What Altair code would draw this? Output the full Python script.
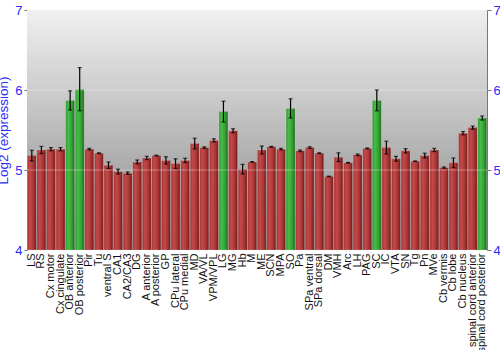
import altair as alt
import pandas as pd

regions = ["LS", "RS", "Cx motor", "Cx cingulate", "OB anterior", "OB posterior", "Pir", "Tu",
           "ventral S", "CA1", "CA2/CA3", "DG", "A anterior", "A posterior", "GP", "CPu lateral",
           "CPu medial", "MD", "VA/VL", "VPM/VPL", "LG", "MG", "Hb", "M", "ME", "SCN", "MPA", "SO",
           "Pa", "SPa ventral", "SPa dorsal", "DM", "VMH", "Arc", "LH", "PAG", "SC", "IC", "VTA",
           "SN", "Tg", "Pn", "MVe", "Cb vermis", "Cb lobe", "Cb nucleus", "spinal cord anterior",
           "spinal cord posterior"]
values = [5.18, 5.25, 5.26, 5.26, 5.87, 6.01, 5.26, 5.21,
          5.06, 4.98, 4.96, 5.10, 5.15, 5.18, 5.12, 5.08,
          5.12, 5.33, 5.28, 5.37, 5.73, 5.49, 5.01, 5.10, 5.25, 5.29, 5.26, 5.77,
          5.24, 5.28, 5.21, 4.92, 5.16, 5.09, 5.19, 5.27, 5.87, 5.28, 5.14,
          5.24, 5.11, 5.18, 5.25, 5.03, 5.09, 5.46, 5.53, 5.65]
errors = [0.067, 0.045, 0.02, 0.02, 0.12, 0.27, 0.01, 0.005,
          0.04, 0.03, 0.015, 0.025, 0.02, 0.005, 0.045, 0.06,
          0.027, 0.067, 0.01, 0.02, 0.13, 0.025, 0.06, 0.005, 0.05, 0.005, 0.01, 0.12,
          0.01, 0.01, 0.005, 0.003, 0.055, 0.005, 0.01, 0.005, 0.13, 0.08, 0.03,
          0.027, 0.003, 0.03, 0.02, 0.008, 0.06, 0.02, 0.02, 0.025]
highlighted = ["OB anterior", "OB posterior", "LG", "SO", "SC", "spinal cord posterior"]

df = pd.DataFrame({"region": regions, "value": values, "err": errors})
df["lo"] = df["value"] - df["err"]
df["hi"] = df["value"] + df["err"]
df["base"] = 4.0
df["grp"] = ["green" if r in highlighted else "red" for r in regions]

bg = pd.DataFrame({"lo": [4.0], "hi": [7.0]})
grid = pd.DataFrame({"g": [5.0, 6.0]})

BLUE = "#2b2bff"
yscale = alt.Scale(domain=[4, 7], nice=False, zero=False)
xenc = alt.X("region:N", sort=regions,
             scale=alt.Scale(paddingInner=0.08, paddingOuter=0.04),
             axis=alt.Axis(title=None, labelAngle=-90, labelFontSize=11, labelColor="#111111",
                           labelFont="Liberation Sans", ticks=False, domain=False,
                           labelPadding=3, labelLimit=200))

def yq(field):
    return alt.Y(field, scale=yscale, axis=None)

background = alt.Chart(bg).mark_rect(
    color=alt.Gradient(gradient="linear", x1=0, y1=0, x2=0, y2=1,
                       stops=[alt.GradientStop(offset=0, color="#f0f0f0"),
                              alt.GradientStop(offset=1, color="#878787")])
).encode(
    y=alt.Y("lo:Q", scale=yscale,
            axis=alt.Axis(title="Log2 (expression)", titleColor=BLUE, titleFontSize=13.5,
                          titleFontWeight="normal", titleFont="Liberation Sans",
                          labelColor=BLUE, labelFontSize=13, labelFont="Liberation Sans",
                          values=[4, 5, 6, 7], grid=True, gridColor="#ffffff",
                          gridWidth=2, domainColor="#777777", tickColor="#777777", tickSize=3,
                          labelPadding=2, titlePadding=4)),
    y2="hi:Q"
)

def bars(group, stops):
    return alt.Chart(df).transform_filter(alt.datum.grp == group).mark_bar(
        color=alt.Gradient(gradient="linear", x1=0, y1=0, x2=1, y2=0,
                           stops=[alt.GradientStop(offset=o, color=c) for o, c in stops]),
        stroke="#ffffff", strokeOpacity=0.15, strokeWidth=1
    ).encode(x=xenc, y=yq("value:Q"), y2="base:Q")

red = bars("red", [(0, "#a53030"), (0.3, "#c44a4a"), (0.7, "#a83434"), (1, "#701818")])
green = bars("green", [(0, "#2f9a2f"), (0.3, "#48bc48"), (0.7, "#32a032"), (1, "#1a6a1a")])

overgrid = alt.Chart(grid).mark_rule(color="#ffffff", strokeWidth=1, opacity=0.35).encode(
    y=alt.Y("g:Q", scale=yscale,
            axis=alt.Axis(orient="right", title=None, labelColor=BLUE, labelFontSize=13,
                          labelFont="Liberation Sans", values=[4, 5, 6, 7], grid=False,
                          domainColor="#777777", tickColor="#777777", tickSize=4,
                          labelPadding=2))
)

errs = alt.Chart(df).mark_rule(color="#000000", strokeWidth=1.2).encode(
    x=xenc, y=yq("lo:Q"), y2="hi:Q")
capl = alt.Chart(df).mark_tick(color="#000000", thickness=1.2, size=4).encode(
    x=xenc, y=yq("lo:Q"))
caph = alt.Chart(df).mark_tick(color="#000000", thickness=1.2, size=4).encode(
    x=xenc, y=yq("hi:Q"))

chart = alt.layer(background, red, green, overgrid, errs, capl, caph).resolve_axis(
    y="independent"
).properties(
    width=460, height=240,
    autosize=alt.AutoSizeParams(type="none"),
    padding={"left": 27, "top": 10, "right": 13, "bottom": 100}
).configure_view(stroke="#777777", strokeWidth=1).configure(background="#ffffff")

chart.save("out.html", embed_options={"renderer": "svg", "actions": False})
